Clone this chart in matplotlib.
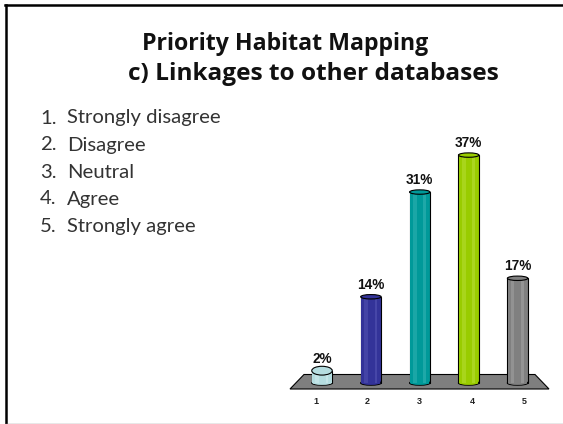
import matplotlib
matplotlib.use("Agg")
import matplotlib.pyplot as plt
from matplotlib.patches import Ellipse, Polygon
from matplotlib.lines import Line2D

W, H = 563, 424
categories = ["1", "2", "3", "4", "5"]
values = [2, 14, 31, 37, 17]
labels = ["2%", "14%", "31%", "37%", "17%"]
colors = ["#B5DDE0", "#333399", "#009999", "#99CC00", "#808080"]
lights = ["#D6EEF0", "#5A5AB8", "#3DB8B8", "#BBE040", "#A8A8A8"]
legend_items = ["Strongly disagree", "Disagree", "Neutral", "Agree", "Strongly agree"]

PX_X, PX_Y = 48.9, 6.16
X0_PX, Y0_PX = 322, 383

fig = plt.figure(figsize=(W / 100, H / 100), dpi=100, facecolor="white")
ax = fig.add_axes([0, 0, 1, 1])
ax.set_xlim(1 - X0_PX / PX_X, 1 + (W - X0_PX) / PX_X)
ax.set_ylim((Y0_PX - H) / PX_Y, Y0_PX / PX_Y)
ax.axis("off")


def px(x, y):
    return ((x - X0_PX) / PX_X + 1, (Y0_PX - y) / PX_Y)


fig.add_artist(Line2D([6 / W, 6 / W], [0, 1 - 5 / H], color="black", lw=1.8))
fig.add_artist(Line2D([5 / W, 1], [1 - 5 / H, 1 - 5 / H], color="black", lw=1.8))
fig.add_artist(Line2D([6 / W, 1], [1 - 423.5 / H, 1 - 423.5 / H], color="#8C8C8C", lw=1))

ax.add_patch(Polygon([px(290, 389), px(304, 374.5), px(535, 374.5), px(549, 389)],
                     closed=True, fc="#7F7F7F", ec="black", lw=0.8, zorder=1))

width = 20.5 / PX_X
cap_h = 2.2 / PX_Y
xs = list(range(1, 6))
for x, v, c, lt in zip(xs, values, colors, lights):
    cap = cap_h * (2 if v < 5 else 1)
    ax.bar(x, v, width=width, color=c, edgecolor="black", lw=0.8, zorder=2)
    ax.add_patch(Ellipse((x, 0), width, 2 * cap_h, fc=c, ec="black", lw=0.8, zorder=2))
    ax.bar(x, v, width=width - 1.4 / PX_X, color=c, lw=0, zorder=2.1)
    ax.add_patch(Ellipse((x, 0), width - 1.4 / PX_X, 2 * cap_h - 0.15, fc=c, ec="none", zorder=2.1))
    ax.bar(x - 0.1, v, width=0.07, color=lt, lw=0, alpha=0.45, zorder=2.2)
    ax.bar(x + 0.1, v, width=0.05, color=lt, lw=0, alpha=0.5, zorder=2.2)
    ax.add_patch(Ellipse((x, v), width, 2 * cap, fc=c, ec="black", lw=0.8, zorder=2.3))

for x, v, t in zip(xs, values, labels):
    ax.text(x, v + 1.95, t, ha="center", va="center", fontsize=9.8, fontweight="bold",
            family="Liberation Sans", color="#111111", zorder=3)
for x, t in zip(xs, categories):
    ax.text(x + (x - 3) * 0.065, -3, t, ha="center", va="center", fontsize=6.5, fontweight="bold",
            family="Liberation Sans", color="#222222")

fig.text(142 / W, 1 - 44 / H, "Priority Habitat Mapping", ha="left", va="center",
         fontsize=16.7, fontweight="bold", family="Open Sans", color="#111111")
fig.text(128 / W, 1 - 74 / H, "c) Linkages to other databases", ha="left", va="center",
         fontsize=17.6, fontweight="bold", family="Open Sans", color="#111111")

for i, t in enumerate(legend_items):
    y = 1 - (118 + i * 27) / H
    fig.text(40 / W, y, f"{i + 1}.", ha="left", va="center", fontsize=14.6, family="Lato", color="#333333")
    fig.text(67 / W, y, t, ha="left", va="center", fontsize=14.6, family="Lato", color="#333333")

fig.savefig("out.png", dpi=100)
